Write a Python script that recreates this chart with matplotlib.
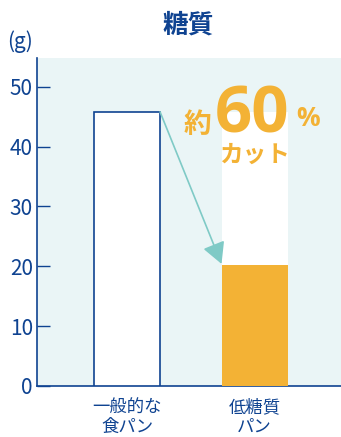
import matplotlib
matplotlib.use("Agg")
import matplotlib.pyplot as plt

plt.rcParams['font.family'] = ['Noto Sans CJK JP', 'DejaVu Sans']

categories = ["一般的な\n食パン", "低糖質\nパン"]
values = [45.8, 20.2]
ref_value = 45.8  # white backing on the low-carb bar
yticks = [0, 10, 20, 30, 40, 50]

navy = "#0f4391"
orange = "#f3b235"
bg = "#eaf5f6"
teal = "#7fcac6"

fig = plt.figure(figsize=(3.41, 4.37), dpi=100)
ax = fig.add_axes([37 / 341, 51 / 437, 304 / 341, 328 / 437])
ax.set_facecolor(bg)

x = [0, 1]
w = 0.518
ax.bar(x[0], values[0], width=w, color="white", edgecolor=navy, linewidth=1.2, zorder=3)
ax.bar(x[1], ref_value, width=w, color="white", linewidth=0, zorder=2)
ax.bar(x[1], values[1], width=w, color=orange, linewidth=0, zorder=3)

# arrow from first bar top-right corner to the second bar top-left
ax.annotate("", xy=(x[1] - w / 2, values[1] + 0.2), xytext=(x[0] + w / 2, values[0]),
            arrowprops=dict(arrowstyle="-|>,head_length=1.3,head_width=0.7",
                            color=teal, lw=1.2, shrinkA=0, shrinkB=0), zorder=4)

ax.set_xlim(-0.706, 1.678)
ax.set_ylim(0, 54.8)
ax.set_yticks(yticks)
ax.set_xticks(x)
ax.set_xticklabels(categories, fontsize=12.5, color=navy, linespacing=1.1)
ax.tick_params(axis="x", length=0, pad=9)
ax.tick_params(axis="y", direction="in", length=9.5, width=1.0, color=navy,
               labelsize=15, labelcolor=navy, pad=3)
for s in ["top", "right"]:
    ax.spines[s].set_visible(False)
for s in ["left", "bottom"]:
    ax.spines[s].set_color(navy)
    ax.spines[s].set_linewidth(1.2)

fig.text(188 / 341, 1 - 25 / 437, "糖質", fontsize=18.5, fontweight="bold",
         color=navy, ha="center", va="center")
fig.text(20 / 341, 1 - 42 / 437, "(g)", fontsize=15, color=navy, ha="center", va="center")

# 約60% カット
ax.text(0.553, 42.3, "約", fontsize=20, fontweight="bold", color=orange,
        ha="center", va="baseline", zorder=5)
ax.text(0.984, 42.3, "60", fontsize=47, fontweight="bold", fontstyle="normal",
        family="Open Sans", color=orange, ha="center", va="baseline", zorder=5)
ax.text(1.416, 43.4, "%", fontsize=19, fontweight="bold", fontstyle="normal",
        family="Open Sans", color=orange, ha="center", va="baseline", zorder=5)
ax.text(1.0, 37.5, "カット", fontsize=17, fontweight="bold", color=orange,
        ha="center", va="baseline", zorder=5)

fig.savefig("out.png", dpi=100)
